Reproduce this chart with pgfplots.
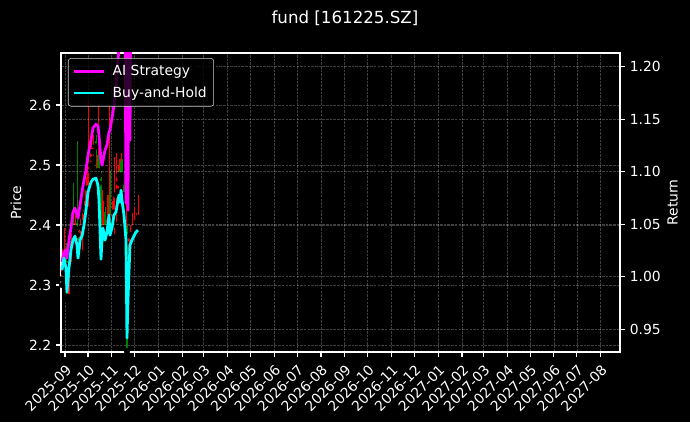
\documentclass[border=0pt]{standalone}
\usepackage{fontspec}
\setmainfont{DejaVu Sans}
\usepackage{pgfplots}
\pgfplotsset{compat=1.18}
\usepackage{pgfplotstable}

\definecolor{mycyan}{RGB}{0,255,255}
\definecolor{mymag}{RGB}{255,0,255}
\definecolor{mpred}{RGB}{255,0,0}
\definecolor{mpgreen}{RGB}{0,128,0}

% day offsets from 2025-09-01
\pgfplotstableread{
d lo hi bl bh
-3.9 2.300 2.360 2.310 2.329
-1.3 2.320 2.395 2.329 2.355
5.2 2.275 2.345 2.280 2.333
7.8 2.330 2.390 2.333 2.373
13.0 2.390 2.430 2.395 2.404
19.6 2.350 2.410 2.355 2.395
22.2 2.350 2.420 2.395 2.404
24.8 2.400 2.440 2.404 2.428
27.4 2.420 2.480 2.428 2.461
30.0 2.425 2.608 2.461 2.500
33.9 2.490 2.540 2.500 2.522
36.5 2.510 2.550 2.522 2.529
43.1 2.480 2.603 2.490 2.516
48.3 2.350 2.458 2.353 2.395
49.6 2.390 2.440 2.395 2.421
54.8 2.390 2.450 2.395 2.412
57.4 2.400 2.600 2.412 2.450
61.3 2.400 2.440 2.406 2.421
63.9 2.380 2.513 2.421 2.450
66.5 2.400 2.520 2.450 2.456
69.1 2.450 2.500 2.456 2.483
70.5 2.470 2.510 2.483 2.494
73.1 2.470 2.520 2.478 2.505
79.6 2.370 2.540 2.380 2.395
82.2 2.330 2.380 2.335 2.350
84.8 2.340 2.400 2.350 2.384
87.4 2.380 2.420 2.384 2.395
90.0 2.390 2.430 2.395 2.404
92.6 2.400 2.420 2.404 2.412
95.3 2.400 2.450 2.412 2.417
}\redc

\pgfplotstableread{
d lo hi bl bh
1.3 2.325 2.370 2.333 2.355
2.6 2.275 2.340 2.280 2.333
10.4 2.390 2.470 2.395 2.420
15.7 2.370 2.540 2.384 2.404
17.0 2.345 2.390 2.355 2.384
40.4 2.460 2.550 2.531 2.540
44.4 2.470 2.520 2.483 2.516
47.0 2.340 2.490 2.353 2.483
52.2 2.385 2.430 2.395 2.421
58.7 2.400 2.490 2.406 2.450
71.8 2.470 2.510 2.478 2.494
74.4 2.475 2.510 2.483 2.505
77.0 2.440 2.490 2.450 2.483
80.9 2.190 2.400 2.190 2.395
}\greenc

\pgfplotstableread{
d r
-3.9 1.0140
-1.3 1.0235
1.3 1.0254
2.6 1.0178
5.2 1.0349
7.8 1.0463
10.4 1.0615
13.0 1.0653
15.7 1.0596
17.0 1.0558
19.6 1.0682
22.2 1.0805
24.8 1.0919
27.4 1.1014
30.0 1.1157
33.9 1.1300
36.5 1.1414
40.4 1.1452
43.1 1.1433
44.4 1.1347
47.0 1.1109
48.3 1.1062
49.6 1.1109
52.2 1.1205
54.8 1.1252
57.4 1.1376
58.7 1.1395
61.3 1.1509
63.9 1.1632
66.5 1.1822
69.1 1.2041
70.5 1.2203
71.8 1.2345
73.1 1.2440
74.4 1.2392
77.0 1.2487
78.3 1.2600
79.6 1.0700
80.9 1.2650
82.2 1.0634
83.5 1.2700
84.8 1.1300
86.1 1.2900
87.4 1.2950
90.0 1.2915
92.6 1.2868
95.3 1.2820
}\aidata

\pgfplotstableread{
d r
-3.9 1.0064
-1.3 1.0178
1.3 1.0083
2.6 0.9855
5.2 1.0083
7.8 1.0254
10.4 1.0349
13.0 1.0387
15.7 1.0301
17.0 1.0178
19.6 1.0349
22.2 1.0387
24.8 1.0491
27.4 1.0634
30.0 1.0805
33.9 1.0900
36.5 1.0929
40.4 1.0938
43.1 1.0872
44.4 1.0729
47.0 1.0168
48.3 1.0349
49.6 1.0463
52.2 1.0349
54.8 1.0425
57.4 1.0587
58.7 1.0396
61.3 1.0463
63.9 1.0587
66.5 1.0615
69.1 1.0729
70.5 1.0777
71.8 1.0710
73.1 1.0824
74.4 1.0729
77.0 1.0587
79.6 1.0349
80.9 0.9417
82.2 0.9779
84.8 1.0301
87.4 1.0349
90.0 1.0387
92.6 1.0425
95.3 1.0444
}\bhdata

\pgfplotsset{
  common/.style={
    scale only axis, width=5.59in, height=2.99in,
    at={(0,0)}, anchor=south west,
    xmin=-5.2, xmax=724.2,
    xtick={0,30,61,91,122,153,181,212,242,273,303,334,365,395,426,456,487,518,546,577,607,638,668,699},
    xticklabels={2025-09,2025-10,2025-11,2025-12,2026-01,2026-02,2026-03,2026-04,2026-05,2026-06,2026-07,2026-08,2026-09,2026-10,2026-11,2026-12,2027-01,2027-02,2027-03,2027-04,2027-05,2027-06,2027-07,2027-08},
    /pgf/number format/assume math mode=true,
    tick label style={font=\fontsize{10bp}{12bp}\selectfont, text=white},
    label style={font=\fontsize{10bp}{12bp}\selectfont, text=white},
    tick align=outside, major tick length=3.5bp,
    tick style={white, line width=0.8bp},
    axis line style={white, line width=0.8bp},
    major grid style={white, opacity=0.25, line width=0.5bp, dash pattern=on 1.85bp off 0.8bp},
  }
}

\begin{document}
\begin{tikzpicture}
\path[use as bounding box, fill=black] (-0.61in,-0.70in) rectangle (6.29in,3.52in);
\node[text=white, font=\fontsize{12bp}{14bp}\selectfont] at (2.84in,3.34in) {fund [161225.SZ]};

\begin{axis}[common,
  ymin=2.1883, ymax=2.6867,
  ytick={2.2,2.3,2.4,2.5,2.6},
  yticklabel style={/pgf/number format/.cd, fixed, fixed zerofill, precision=1},
  xtick pos=bottom, ytick pos=left,
  xmajorgrids, ymajorgrids,
  xticklabel style={rotate=45, anchor=north east},
  ylabel={Price},
  ylabel style={at={(axis description cs:-0.0805,0.5)}, anchor=center},
]
\addplot[only marks, mark=none, forget plot,
  error bars/.cd, y dir=plus, y explicit, error mark=none,
  error bar style={line width=0.5bp, draw=mpred}]
  table[x=d, y=lo, y error plus expr=\thisrow{hi}-\thisrow{lo}] {\redc};
\addplot[only marks, mark=none, forget plot,
  error bars/.cd, y dir=plus, y explicit, error mark=none,
  error bar style={line width=1.6bp, draw=mpred}]
  table[x=d, y=bl, y error plus expr=\thisrow{bh}-\thisrow{bl}] {\redc};
\addplot[only marks, mark=none, forget plot,
  error bars/.cd, y dir=plus, y explicit, error mark=none,
  error bar style={line width=0.5bp, draw=mpgreen}]
  table[x=d, y=lo, y error plus expr=\thisrow{hi}-\thisrow{lo}] {\greenc};
\addplot[only marks, mark=none, forget plot,
  error bars/.cd, y dir=plus, y explicit, error mark=none,
  error bar style={line width=1.6bp, draw=mpgreen}]
  table[x=d, y=bl, y error plus expr=\thisrow{bh}-\thisrow{bl}] {\greenc};
\end{axis}

\begin{axis}[common,
  ymin=0.9284, ymax=1.2130,
  ytick={0.95,1.00,1.05,1.10,1.15,1.20},
  yticklabel style={/pgf/number format/.cd, fixed, fixed zerofill, precision=2},
  axis y line*=right, axis x line=none,
  ymajorgrids,
  ylabel={Return},
  ylabel style={at={(axis description cs:1.0943,0.5)}, anchor=center},
  legend cell align=left,
  legend style={at={(axis description cs:0.0125,0.983)}, anchor=north west,
    fill=black, fill opacity=0.8, draw opacity=1, text opacity=1,
    draw=white!80!black, rounded corners=2bp, text=white,
    font=\fontsize{10bp}{12bp}\selectfont,
    inner xsep=3bp, inner ysep=3bp, row sep=2.5bp,
    /tikz/every odd column/.append style={column sep=3bp}},
  legend image code/.code={\draw[#1, line width=2bp] (0bp,0bp) -- (22bp,0bp);},
]
\addplot[mymag, line width=2bp, line join=round] table[x=d, y=r] {\aidata};
\addlegendentry{AI Strategy}
\addplot[mycyan, line width=2bp, line join=round] table[x=d, y=r] {\bhdata};
\addlegendentry{Buy-and-Hold}
\end{axis}
\end{tikzpicture}
\end{document}
